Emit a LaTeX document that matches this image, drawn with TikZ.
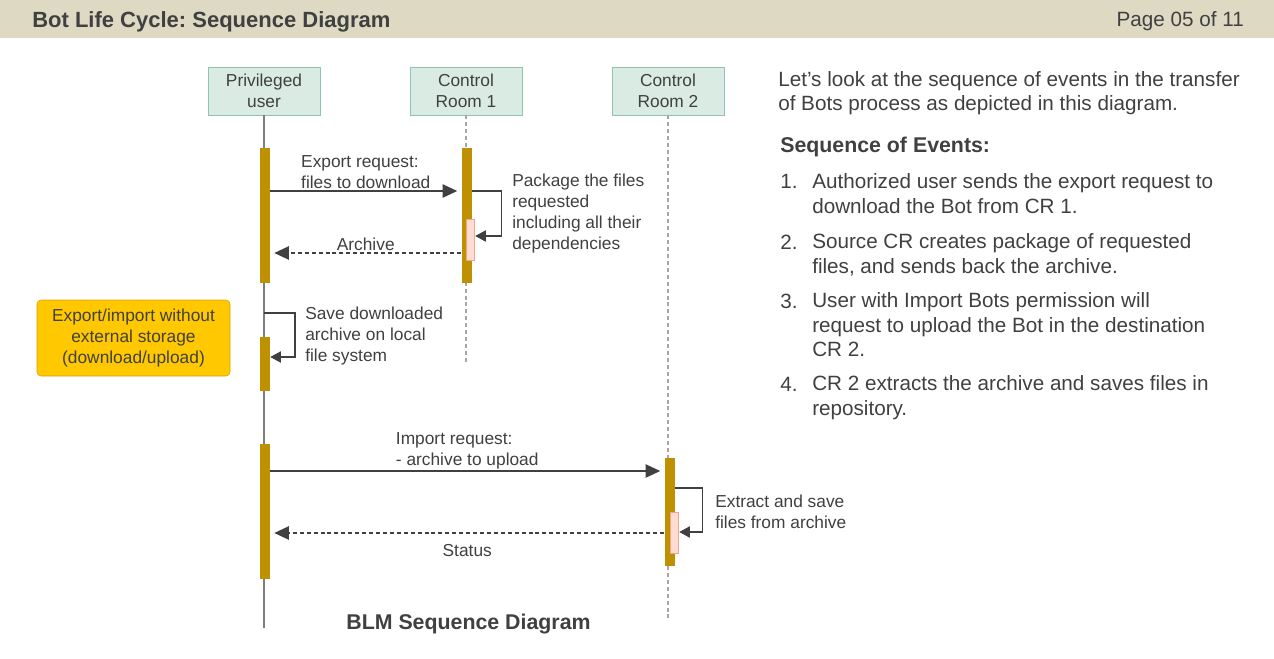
\documentclass[tikz,border=0pt]{standalone}
\usepackage{fontspec}
\setmainfont{Liberation Sans}
\usetikzlibrary{arrows.meta}
\frenchspacing

\definecolor{bandcol}{HTML}{DDD9C3}
\definecolor{txtcol}{HTML}{404040}
\definecolor{headfill}{HTML}{DAEBE4}
\definecolor{headdraw}{HTML}{8EC5B2}
\definecolor{barcol}{HTML}{BF9000}
\definecolor{pinkfill}{HTML}{FFDCD2}
\definecolor{pinkdraw}{HTML}{F2A48C}
\definecolor{notefill}{HTML}{FFC800}
\definecolor{notedraw}{HTML}{D9A300}
\definecolor{lifecol}{HTML}{7F7F7F}
\definecolor{dashcol}{HTML}{A6A6A6}

\begin{document}
\begin{tikzpicture}[x=0.75pt,y=-0.75pt,
    lbl/.style={font=\fontsize{13}{15.75}\selectfont, text=txtcol, align=left, inner sep=1pt},
    body/.style={font=\fontsize{15.5}{18.5}\selectfont, text=txtcol, align=left, inner sep=0pt},
    head/.style={lbl, align=center, draw=headdraw, fill=headfill, minimum width=84pt, minimum height=36pt, inner sep=2pt},
    bar/.style={fill=barcol, inner sep=0pt, minimum width=7.5pt},
    sub/.style={draw=pinkdraw, fill=pinkfill, line width=0.6pt, inner sep=0pt, minimum width=6.5pt},
    msg/.style={draw=txtcol, line width=1.1pt, shorten >=3pt, -{Triangle[length=11pt, width=10pt]}},
    ret/.style={msg, dash pattern=on 3pt off 2.2pt},
    self/.style={draw=txtcol, line width=0.8pt, -{Triangle[length=8pt, width=8.5pt]}}]
    \useasboundingbox (0,0) rectangle (1274,658);

    % Title band
    \fill[bandcol] (0,0) rectangle (1274,38);
    \node[font=\fontsize{16.5}{19}\selectfont\bfseries, text=txtcol, anchor=base west, inner sep=0pt] (title) at (32,27) {Bot Life Cycle: Sequence Diagram};
    \node[font=\fontsize{15.5}{18}\selectfont, text=txtcol, anchor=base east, inner sep=0pt] (page) at (1244,26) {Page 05 of 11};

    % Lifeline heads
    \node[head] (user) at (264,91) {Privileged\\user};
    \node[head] (cr1) at (466,91) {Control\\Room 1};
    \node[head] (cr2) at (668,91) {Control\\Room 2};

    % Lifelines
    \coordinate (userend) at (264,628);
    \coordinate (cr1end) at (466,362);
    \coordinate (cr2end) at (668,620);
    \draw[lifecol, line width=0.9pt] (user) -- (userend);
    \draw[dashcol, line width=1pt, dash pattern=on 3pt off 2.2pt] (cr1) -- (cr1end);
    \draw[dashcol, line width=1pt, dash pattern=on 3pt off 2.2pt] (cr2) -- (cr2end);

    % Activation bars
    \node[bar, minimum height=101.25pt] (ub1) at (265,215.5) {};
    \node[bar, minimum height=101.25pt] (cb1) at (466.5,215.5) {};
    \node[sub, minimum height=30.75pt] (pk1) at (470.5,239.5) {};
    \node[bar, minimum height=40.5pt] (ub2) at (265,364) {};
    \node[bar, minimum height=101.25pt] (ub3) at (265,511.5) {};
    \node[bar, minimum height=81pt] (cb2) at (669.5,512) {};
    \node[sub, minimum height=30.5pt] (pk2) at (674.5,533) {};

    % Message rows
    \coordinate (r1) at (0,191);
    \coordinate (r2) at (0,236);
    \coordinate (r3) at (0,253);
    \coordinate (r4) at (0,313);
    \coordinate (r5) at (0,357);
    \coordinate (r6) at (0,471);
    \coordinate (r7) at (0,488);
    \coordinate (r8) at (0,532);
    \coordinate (r9) at (0,533);

    % Export: download from Control Room 1
    \draw[msg] (ub1.east |- r1) -- node[lbl, midway, above] {Export request:\\files to download} (cb1.west |- r1);
    \draw[self] (cb1.east |- r1) -- ++(30,0) |- (pk1.east |- r2);
    \node[lbl, anchor=west, inner sep=0pt] (pklbl) at (512,214) {Package the files\\requested\\including all their\\dependencies};
    \draw[ret] (cb1.west |- r3) -- node[lbl, midway, above] {Archive} (ub1.east |- r3);

    % Local save
    \draw[self] (user |- r4) -- ++(31,0) |- (ub2.east |- r5);
    \node[lbl, anchor=west, inner sep=0pt] (savelbl) at (305,336) {Save downloaded\\archive on local\\file system};

    % Import: upload to Control Room 2
    \draw[msg] (ub3.east |- r6) -- node[lbl, midway, above] {Import request:\\- archive to upload} (cb2.west |- r6);
    \draw[self] (cb2.east |- r7) -- ++(28,0) |- (pk2.east |- r8);
    \node[lbl, anchor=west, inner sep=0pt] (extlbl) at (715,512) {Extract and save\\files from archive};
    \draw[ret] (cb2.west |- r9) -- node[lbl, midway, below=7pt] {Status} (ub3.east |- r9);

    % Note
    \node[lbl, align=center, draw=notedraw, fill=notefill, rounded corners=3pt, minimum width=144.75pt, minimum height=57pt] (note) at (133.5,338) {Export/import without\\external storage\\(download/upload)};

    % Caption
    \node[font=\fontsize{16}{19}\selectfont\bfseries, text=txtcol, anchor=base, inner sep=0pt] (caption) at (468.5,629) {BLM Sequence Diagram};

    % Sequence of events (base = last line)
    \node[body, anchor=base west] (intro) at (778,110.7) {Let’s look at the sequence of events in the transfer\\of Bots process as depicted in this diagram.};
    \node[body, font=\fontsize{16}{19}\selectfont\bfseries, anchor=base west] (evhead) at (780,152.7) {Sequence of Events:};
    \node[body, anchor=base west] (n1) at (780,188.3) {1.};
    \node[body, anchor=base west] (ev1) at (812,213.3) {Authorized user sends the export request to\\download the Bot from CR 1.};
    \node[body, anchor=base west] (n2) at (780,249.3) {2.};
    \node[body, anchor=base west] (ev2) at (812,273.3) {Source CR creates package of requested\\files, and sends back the archive.};
    \node[body, anchor=base west] (n3) at (780,308.3) {3.};
    \node[body, anchor=base west] (ev3) at (812,356.7) {User with Import Bots permission will\\request to upload the Bot in the destination\\CR 2.};
    \node[body, anchor=base west] (n4) at (780,391.7) {4.};
    \node[body, anchor=base west] (ev4) at (812,415) {CR 2 extracts the archive and saves files in\\repository.};
\end{tikzpicture}
\end{document}
